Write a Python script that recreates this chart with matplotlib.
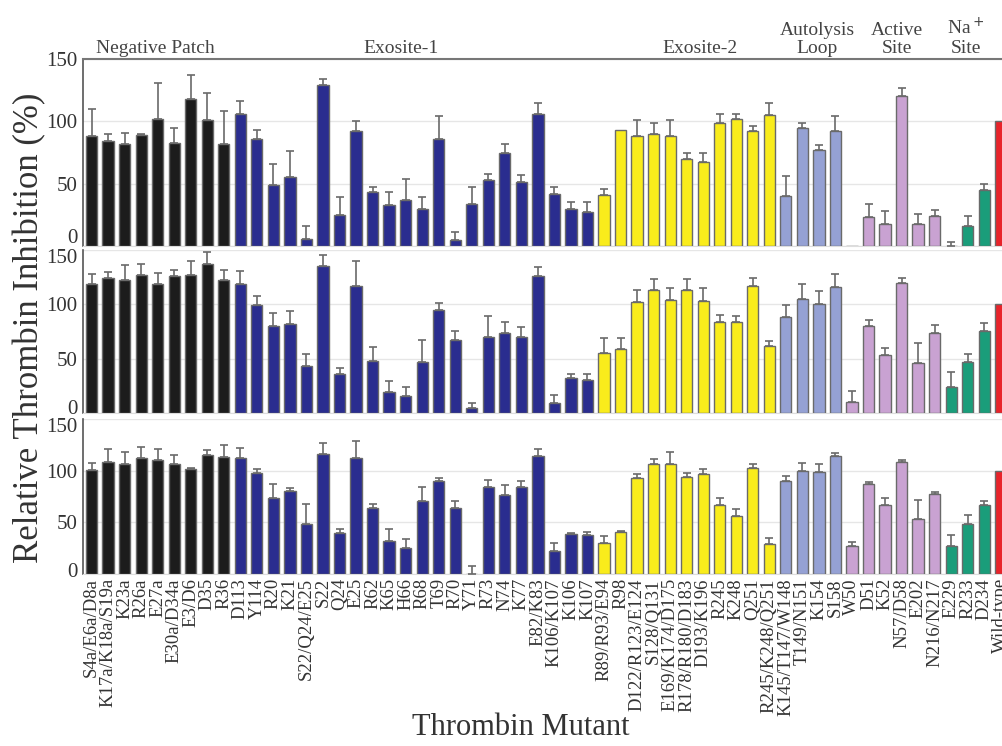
import numpy as np
import matplotlib
matplotlib.use('Agg')
from matplotlib import pyplot as plt
from matplotlib import transforms

plt.rcParams['font.family'] = ['Liberation Serif', 'DejaVu Serif']

# Mutant labels, in plot order
mutants = ['S4a/E6a/D8a', 'K17a/K18a/S19a', 'K23a', 'R26a', 'E27a', 'E30a/D34a',
           'E3/D6', 'D35', 'R36',
           'D113', 'Y114', 'R20', 'K21', 'S22/Q24/E25', 'S22', 'Q24', 'E25', 'R62',
           'K65', 'H66', 'R68', 'T69', 'R70', 'Y71', 'R73', 'N74', 'K77', 'E82/K83',
           'K106/K107', 'K106', 'K107',
           'R89/R93/E94', 'R98', 'D122/R123/E124', 'S128/Q131', 'E169/K174/D175',
           'R178/R180/D183', 'D193/K196', 'R245', 'K248', 'Q251', 'R245/K248/Q251',
           'K145/T147/W148', 'T149/N151', 'K154', 'S158',
           'W50', 'D51', 'K52', 'N57/D58', 'E202', 'N216/N217',
           'E229', 'R233', 'D234',
           'Wild-type']

# number of mutants in each region
group_sizes = [9, 22, 11, 4, 6, 3, 1]
group_colors = ['#1c1c1c', '#2a2d8f', '#f9ec1c', '#95a1d4', '#c9a2d2', '#1a9d7a', '#e8232a']
group_names = ['Negative Patch', 'Exosite-1', 'Exosite-2', 'Autolysis\nLoop',
               'Active\nSite', 'Na$^+$\nSite']

# panel 1 (top)
vals1 = [88, 84, 82, 89, 102, 83, 118, 101, 82,
         106, 86, 49, 55, 6, 129, 25, 92, 43, 33, 37, 30, 86, 5, 34, 53, 75, 51,
         106, 42, 30, 27,
         41, 93, 88, 90, 88, 70, 67, 99, 102, 92, 105,
         40, 95, 77, 92,
         0, 23, 18, 120, 18, 24,
         0, 16, 45,
         100]
top1 = [110, 90, 91, 90, 131, 95, 137, 123, 108,
        116, 93, 66, 76, 16, 134, 39, 100, 47, 43, 54, 39, 104, 11, 47, 58, 82, 57,
        115, 47, 35, 35,
        46, 93, 101, 99, 101, 75, 75, 106, 106, 96, 115,
        56, 99, 81, 104,
        0, 34, 28, 127, 26, 29,
        3, 24, 50,
        100]

# panel 2 (middle)
vals2 = [119, 124, 122, 127, 119, 126, 127, 137, 122,
         119, 99, 80, 82, 43, 135, 36, 117, 48, 19, 16, 47, 95, 67, 5, 70, 74, 70,
         126, 9, 32, 30,
         55, 59, 102, 113, 104, 113, 103, 84, 84, 117, 62,
         88, 105, 100, 116,
         10, 80, 53, 120, 46, 74,
         24, 47, 75,
         100]
top2 = [128, 130, 136, 137, 129, 132, 140, 148, 132,
        131, 108, 92, 94, 54, 145, 41, 140, 61, 29, 24, 67, 101, 75, 9, 89, 84, 79,
        134, 17, 36, 36,
        69, 69, 113, 123, 115, 123, 115, 90, 89, 124, 66,
        99, 119, 112, 128,
        20, 86, 60, 124, 64, 81,
        38, 54, 83,
        100]

# panel 3 (bottom)
vals3 = [101, 108, 106, 112, 110, 106, 102, 115, 113,
         112, 98, 74, 80, 48, 116, 40, 112, 64, 32, 25, 71, 90, 64, 0, 84, 76, 84,
         114, 22, 39, 38,
         30, 41, 93, 106, 106, 94, 97, 67, 56, 103, 29,
         90, 100, 99, 114,
         27, 87, 67, 108, 53, 77,
         27, 48, 67,
         100]
top3 = [107, 121, 118, 123, 121, 115, 103, 120, 125,
        122, 102, 87, 83, 68, 127, 44, 129, 68, 44, 34, 84, 93, 71, 8, 91, 86, 90,
        121, 30, 40, 41,
        37, 42, 97, 111, 118, 98, 102, 74, 63, 106, 35,
        95, 107, 106, 117,
        31, 89, 74, 110, 72, 79,
        38, 57, 71,
        100]

colors = []
for size, col in zip(group_sizes, group_colors):
    colors += [col] * size
x = np.arange(len(mutants))

fig = plt.figure(figsize=(10.02, 7.46), dpi=100)
left, right = 0.0828, 1.007
boxes = [(0.6702, 0.9209), (0.4464, 0.6649), (0.2306, 0.4383)]
panels = [(vals1, top1), (vals2, top2), (vals3, top3)]
# vertical nudge (points) for the "0" and "150" labels so they don't collide
nudges = [(7, 0), (4, -4), (3, -4)]

axes = []
for i, ((b, t), (vals, tops)) in enumerate(zip(boxes, panels)):
    ax = fig.add_axes([left, b, right - left, t - b])
    vals = np.array(vals, dtype=float)
    errs = np.array(tops, dtype=float) - vals
    ax.bar(x, vals, width=0.68, color=colors, edgecolor='#6a6a6a', linewidth=1, zorder=3)
    ok = errs > 0
    ax.errorbar(x[ok], vals[ok], yerr=[np.zeros(ok.sum()), errs[ok]],
                fmt='none', ecolor='#6a6a6a', elinewidth=1.2, capsize=3,
                capthick=1.2, zorder=4)
    ax.set_xlim(-0.52, 55.5)
    ax.set_ylim(0, 150)
    ax.yaxis.grid(True, color='#e6e6e6', linewidth=1, zorder=0)
    ax.set_axisbelow(True)
    ax.tick_params(axis='both', length=0, pad=4)
    ax.spines['right'].set_visible(False)
    ax.spines['left'].set_color('#555555')
    ax.spines['left'].set_linewidth(1.2)
    ax.spines['bottom'].set_color('#dddddd')
    if i == 0:
        ax.spines['top'].set_color('#777777')
        ax.spines['top'].set_linewidth(1.5)
    else:
        ax.spines['top'].set_visible(False)
    if i < 2:
        ax.set_xticks([])
    else:
        ax.set_xticks(x)
        ax.set_xticklabels(mutants, rotation=90, fontsize=13.5, color='#333333')
        ax.tick_params(axis='x', pad=3)
    ax.set_yticks([0, 50, 100, 150])
    ax.set_yticklabels(['0', '50', '100', '150'], fontsize=15, color='#333333')
    # nudge after tick_params, otherwise the transforms get reset
    ylabels = ax.get_yticklabels()
    for lab, dy in zip([ylabels[0], ylabels[3]], nudges[i]):
        lab.set_transform(lab.get_transform() +
                          transforms.ScaledTranslation(0, dy / 72, fig.dpi_scale_trans))
    axes.append(ax)

# region labels above the top panel
centers = [3.84, 18.7, 36.8, 43.9, 48.7, 52.9]
trans = transforms.blended_transform_factory(axes[0].transData, axes[0].transAxes)
for name, cx in zip(group_names, centers):
    axes[0].text(cx, 1.01, name, transform=trans, ha='center', va='bottom',
                 fontsize=14, color='#444444', linespacing=1.1)

fig.text(0.03, 0.56, 'Relative Thrombin Inhibition (%)', rotation=90,
         ha='center', va='center', fontsize=25, color='#333333')
fig.text(0.52, 0.025, 'Thrombin Mutant', ha='center', va='center',
         fontsize=22, color='#333333')

fig.savefig('out.png', dpi=100)
